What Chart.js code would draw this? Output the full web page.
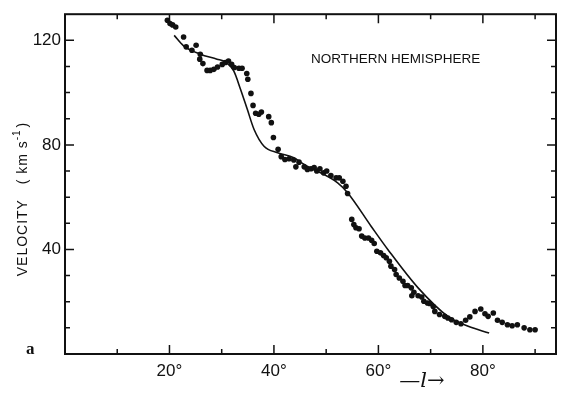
<!DOCTYPE html>
<html>
<head>
<meta charset="utf-8">
<script src="https://cdn.jsdelivr.net/npm/chart.js@4.4.1/dist/chart.umd.min.js"></script>
<style>
  html, body { margin: 0; padding: 0; background: #fff; }
  #wrap { width: 570px; height: 399px; position: relative; }
</style>
</head>
<body>
<div id="wrap"><canvas id="rotChart"></canvas></div>
<script>
// Observed points (galactic longitude in degrees, velocity in km/s)
const lonDots = [19.6, 20.1, 20.6, 21.2, 22.7, 23.2, 24.3, 25.1, 25.9, 25.8, 26.4, 27.2, 27.8, 28.5, 29.2, 30.1, 30.7, 31.3, 31.9, 32.4,
  33.3, 33.9, 34.8, 35.0, 35.6, 36.0, 36.5, 37.1, 37.6, 39.0, 39.5, 39.9, 40.8, 41.4, 42.1, 42.9, 43.8, 44.2, 44.8, 45.8,
  46.4, 47.1, 47.7, 48.2, 48.8, 49.5, 50.1, 50.9, 51.9, 52.5, 53.2, 53.8, 54.1, 54.9, 55.3, 55.7, 56.3, 56.8, 57.4, 58.1,
  58.7, 59.2, 59.7, 60.4, 61.0, 61.5, 62.1, 62.4, 63.1, 63.4, 64.0, 64.7, 65.1, 65.6, 66.3, 66.8, 66.4, 67.6, 68.3, 68.7,
  69.4, 69.8, 70.5, 70.8, 71.7, 72.7, 73.3, 74.0, 74.9, 75.8, 76.7, 77.5, 78.5, 79.6, 80.4, 81.0, 82.0, 82.8, 83.7, 84.7,
  85.6, 86.6, 87.9, 89.0, 90.0];
const velDots = [127.7, 126.4, 125.9, 125.1, 121.3, 117.5, 116.2, 118.1, 114.7, 112.8, 111.1, 108.5, 108.5, 108.9, 109.8, 110.8, 111.5, 112.1, 110.8, 109.6,
  109.3, 109.3, 107.3, 105.1, 99.7, 95.1, 92.1, 91.7, 92.6, 90.8, 88.5, 82.8, 78.3, 75.5, 74.4, 74.7, 74.2, 71.6, 73.4, 71.6,
  70.6, 70.9, 71.3, 70.0, 70.9, 69.3, 70.0, 68.3, 67.4, 67.4, 66.1, 64.2, 61.4, 51.5, 49.5, 48.3, 47.9, 45.1, 44.4, 44.4,
  43.5, 42.3, 39.3, 38.7, 37.7, 36.8, 35.5, 33.6, 32.3, 30.4, 29.1, 27.8, 26.2, 26.2, 25.3, 23.6, 22.3, 22.3, 21.8, 20.2,
  19.5, 19.3, 18.2, 16.3, 15.1, 14.4, 13.8, 13.1, 12.1, 11.6, 12.9, 14.2, 16.3, 17.2, 15.4, 14.4, 15.7, 12.9, 12.1, 11.2,
  10.8, 11.2, 10.0, 9.3, 9.3];

// Model curve
const lonModel = [20.9, 22.7, 25.9, 29.1, 30.7, 32.3, 33.6, 34.9, 36.2, 38.1, 40.7, 43.8, 45.8, 52.2, 54.1, 58.6, 61.8, 67.6, 73.3, 77.2, 81.2];
const velModel = [121.9, 117.9, 114.7, 112.8, 111.7, 108.3, 101.3, 93.6, 85.9, 79.5, 77.0, 75.1, 72.5, 65.5, 61.7, 48.9, 40.0, 25.3, 14.4, 10.6, 8.0];

// Axis ranges and labelled ticks
const lonRange = [0, 94];
const velRange = [0, 130];
const lonTickLabels = [20, 40, 60, 80];
const velTickLabels = [40, 80, 120];

const FONT = '"Liberation Sans", Arial, Helvetica, sans-serif';

// frame, inward ticks and the loose texts
const framePlugin = {
    id: 'frame',
    afterDraw(chart) {
        const { ctx, chartArea: a, scales: { x, y } } = chart;
        ctx.save();
        ctx.strokeStyle = '#111';
        ctx.lineWidth = 2;
        ctx.strokeRect(a.left, a.top, a.right - a.left, a.bottom - a.top);

        ctx.lineWidth = 1.5;
        ctx.beginPath();
        for (let v = 10; v < lonRange[1]; v += 10) {
            const px = x.getPixelForValue(v);
            const len = lonTickLabels.includes(v) ? 9 : 5;
            ctx.moveTo(px, a.bottom); ctx.lineTo(px, a.bottom - len);
            ctx.moveTo(px, a.top); ctx.lineTo(px, a.top + len);
        }
        for (let v = 10; v < velRange[1]; v += 10) {
            const py = y.getPixelForValue(v);
            const len = velTickLabels.includes(v) ? 9 : 5;
            ctx.moveTo(a.left, py); ctx.lineTo(a.left + len, py);
            ctx.moveTo(a.right, py); ctx.lineTo(a.right - len, py);
        }
        ctx.stroke();

        ctx.fillStyle = '#111';
        // panel text
        ctx.font = '13.5px ' + FONT;
        ctx.textAlign = 'left';
        ctx.textBaseline = 'alphabetic';
        ctx.letterSpacing = '0px';
        ctx.fillText('NORTHERN HEMISPHERE', 311, 63);

        // panel letter
        ctx.font = 'bold 17px "Liberation Serif", "DejaVu Serif", serif';
        ctx.fillText('a', 26, 354);

        // x axis name
        ctx.font = 'italic 21px "DejaVu Serif", serif';
        ctx.textAlign = 'center';
        ctx.fillText('\u2014l\u2192', 422, 387);

        // y axis title, rotated
        ctx.translate(27, 199);
        ctx.rotate(-Math.PI / 2);
        ctx.font = '14px ' + FONT;
        ctx.textAlign = 'left';
        ctx.letterSpacing = '1px';
        const main = 'VELOCITY   ( km s';
        const sup = '-1';
        const tail = ')';
        const wMain = ctx.measureText(main).width;
        ctx.font = '10px ' + FONT;
        const wSup = ctx.measureText(sup).width;
        ctx.font = '14px ' + FONT;
        const wTail = ctx.measureText(tail).width;
        let cx = -(wMain + wSup + wTail + 2) / 2;
        ctx.fillText(main, cx, 0);
        cx += wMain;
        ctx.font = '10px ' + FONT;
        ctx.fillText(sup, cx, -7);
        cx += wSup + 2;
        ctx.font = '14px ' + FONT;
        ctx.fillText(tail, cx, 0);
        ctx.restore();
    }
};

new Chart(document.getElementById('rotChart').getContext('2d'), {
    type: 'scatter',
    data: {
        datasets: [{
            label: 'observed',
            data: lonDots.map((v, i) => ({ x: v, y: velDots[i] })),
            pointRadius: 2.8,
            pointHoverRadius: 2.8,
            pointBackgroundColor: '#111',
            pointBorderWidth: 0,
            showLine: false
        }, {
            label: 'model',
            type: 'line',
            data: lonModel.map((v, i) => ({ x: v, y: velModel[i] })),
            borderColor: '#111',
            borderWidth: 1.6,
            pointRadius: 0,
            fill: false,
            cubicInterpolationMode: 'monotone'
        }]
    },
    options: {
        responsive: true,
        maintainAspectRatio: false,
        animation: false,
        layout: { padding: { top: 14, right: 14, left: 0, bottom: 0 } },
        plugins: { legend: { display: false }, tooltip: { enabled: false } },
        scales: {
            x: {
                type: 'linear',
                min: lonRange[0],
                max: lonRange[1],
                grid: { display: false, drawTicks: false },
                border: { display: false },
                afterFit: s => { s.height = 45; },
                ticks: {
                    stepSize: 10,
                    includeBounds: false,
                    autoSkip: false,
                    maxRotation: 0,
                    padding: 7,
                    color: '#111',
                    font: { family: FONT, size: 17 },
                    callback: v => lonTickLabels.includes(v) ? v + '\u00b0' : ''
                }
            },
            y: {
                min: velRange[0],
                max: velRange[1],
                grid: { display: false, drawTicks: false },
                border: { display: false },
                afterFit: s => { s.width = 65; },
                ticks: {
                    stepSize: 10,
                    includeBounds: false,
                    autoSkip: false,
                    padding: 4,
                    color: '#111',
                    font: { family: FONT, size: 17 },
                    callback: v => velTickLabels.includes(v) ? String(v) : ''
                }
            }
        }
    },
    plugins: [framePlugin]
});
</script>
</body>
</html>
